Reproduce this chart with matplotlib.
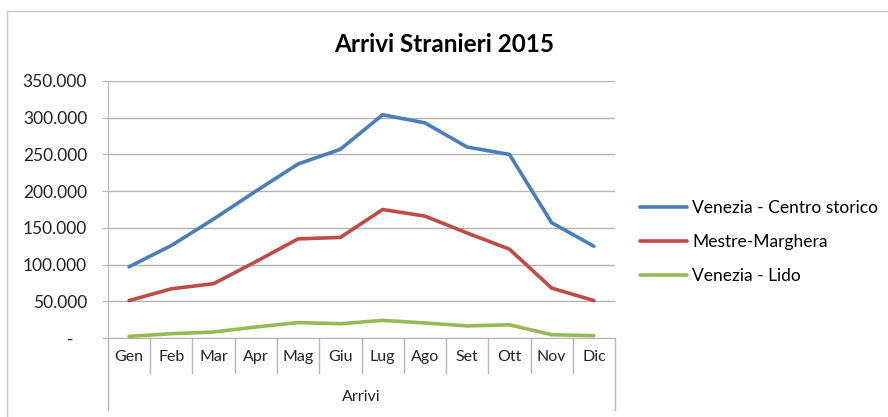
import matplotlib.pyplot as plt
from matplotlib.ticker import FuncFormatter
import matplotlib.transforms as mtransforms

plt.rcParams['font.family'] = ['Lato', 'DejaVu Sans']

mesi = ["Gen", "Feb", "Mar", "Apr", "Mag", "Giu", "Lug", "Ago", "Set", "Ott", "Nov", "Dic"]
centro_storico = [97000, 126000, 162000, 200000, 237000, 257000, 304000, 293000, 260000, 250000, 157000, 125000]
mestre = [51000, 67000, 74000, 104000, 135000, 137000, 175000, 166000, 143000, 121000, 68000, 51000]
lido = [2200, 5900, 8200, 15000, 21000, 19500, 24000, 20500, 16500, 18000, 4500, 3200]
serie = ["Venezia - Centro storico", "Mestre-Marghera", "Venezia - Lido"]
colori = ["#4a7ebb", "#be4b48", "#98b954"]
yticks = [0, 50000, 100000, 150000, 200000, 250000, 300000, 350000]

fig = plt.figure(figsize=(8.88, 4.17), dpi=100)
ax = fig.add_axes([0.1216, 0.1894, 0.571, 0.6164])

x = list(range(len(mesi)))
for vals, nome, c in zip([centro_storico, mestre, lido], serie, colori):
    ax.plot(x, vals, color=c, lw=2.6, label=nome, solid_capstyle="round")

ax.set_xlim(-0.5, 11.5)
ax.set_ylim(0, 350000)
ax.set_yticks(yticks)

def fmt(v, pos):
    if v == 0:
        return "-   "
    return f"{int(v):,}".replace(",", ".")

ax.yaxis.set_major_formatter(FuncFormatter(fmt))
ax.grid(axis="y", color="#b5b5b5", lw=1)
ax.set_axisbelow(True)
ax.tick_params(axis="y", length=4, color="#b5b5b5", labelsize=12.5, pad=11, labelcolor="#222222")
ax.set_xticks([])
for s in ["top", "right"]:
    ax.spines[s].set_visible(False)
ax.spines["left"].set_color("#b5b5b5")
ax.spines["bottom"].set_color("#b5b5b5")

# category axis with group label
tr = mtransforms.blended_transform_factory(ax.transData, ax.transAxes)
for k in range(len(mesi) + 1):
    bottom = -0.28 if k in (0, len(mesi)) else -0.137
    ax.plot([k - 0.5, k - 0.5], [0, bottom], transform=tr, color="#b5b5b5", lw=1, clip_on=False)
for k, m in enumerate(mesi):
    ax.text(k, -0.072, m, transform=tr, ha="center", va="center", fontsize=11.5, color="#222222")
ax.text((len(mesi) - 1) / 2, -0.23, "Arrivi", transform=tr, ha="center", va="center", fontsize=11.5, color="#222222")

fig.text(0.5, 0.893, "Arrivi Stranieri 2015", ha="center", va="center", fontsize=17.5, fontweight="bold")

ax.legend(loc="center left", bbox_to_anchor=(0.703, 0.42), bbox_transform=fig.transFigure,
          frameon=False, fontsize=12.5, handlelength=2.7, handletextpad=0.3, labelspacing=1.05)

# chart border
fig.add_artist(plt.Line2D([0.008, 1.0], [0.974, 0.974], transform=fig.transFigure, color="#c8c8c8", lw=1))
fig.add_artist(plt.Line2D([0.008, 0.008], [0.0, 0.974], transform=fig.transFigure, color="#c8c8c8", lw=1))

fig.savefig("out.png", dpi=100)
